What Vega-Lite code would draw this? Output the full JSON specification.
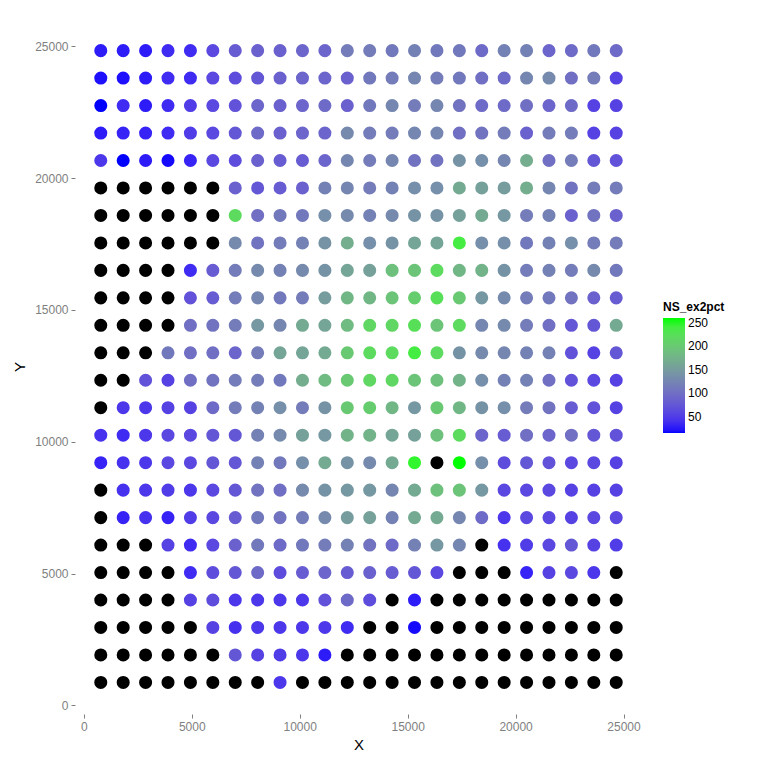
{
"$schema": "https://vega.github.io/schema/vega-lite/v6.json",
"width": 567, "height": 695,
"autosize": {"type": "none"},
"padding": {"left": 75, "top": 19, "right": 126, "bottom": 54},
"background": "white",
"config": {"view": {"stroke": null}, "font": "Liberation Sans"},
"data": {"values": [
{"x":787,"y":24838,"v":25},{"x":1825,"y":24838,"v":25},{"x":2863,"y":24838,"v":25},{"x":3901,"y":24838,"v":35},{"x":4939,"y":24838,"v":35},{"x":5977,"y":24838,"v":60},{"x":7015,"y":24838,"v":80},{"x":8053,"y":24838,"v":85},{"x":9091,"y":24838,"v":85},{"x":10129,"y":24838,"v":90},{"x":11167,"y":24838,"v":90},{"x":12205,"y":24838,"v":115},{"x":13243,"y":24838,"v":115},{"x":14281,"y":24838,"v":110},{"x":15319,"y":24838,"v":120},{"x":16357,"y":24838,"v":110},{"x":17395,"y":24838,"v":110},{"x":18433,"y":24838,"v":95},{"x":19471,"y":24838,"v":120},{"x":20509,"y":24838,"v":120},{"x":21547,"y":24838,"v":90},{"x":22585,"y":24838,"v":95},{"x":23623,"y":24838,"v":110},{"x":24661,"y":24838,"v":95},
{"x":787,"y":23796,"v":20},{"x":1825,"y":23796,"v":20},{"x":2863,"y":23796,"v":25},{"x":3901,"y":23796,"v":35},{"x":4939,"y":23796,"v":35},{"x":5977,"y":23796,"v":60},{"x":7015,"y":23796,"v":65},{"x":8053,"y":23796,"v":75},{"x":9091,"y":23796,"v":85},{"x":10129,"y":23796,"v":90},{"x":11167,"y":23796,"v":90},{"x":12205,"y":23796,"v":85},{"x":13243,"y":23796,"v":110},{"x":14281,"y":23796,"v":115},{"x":15319,"y":23796,"v":125},{"x":16357,"y":23796,"v":115},{"x":17395,"y":23796,"v":110},{"x":18433,"y":23796,"v":100},{"x":19471,"y":23796,"v":95},{"x":20509,"y":23796,"v":125},{"x":21547,"y":23796,"v":130},{"x":22585,"y":23796,"v":100},{"x":23623,"y":23796,"v":115},{"x":24661,"y":23796,"v":55},
{"x":787,"y":22754,"v":15},{"x":1825,"y":22754,"v":35},{"x":2863,"y":22754,"v":25},{"x":3901,"y":22754,"v":35},{"x":4939,"y":22754,"v":50},{"x":5977,"y":22754,"v":60},{"x":7015,"y":22754,"v":70},{"x":8053,"y":22754,"v":90},{"x":9091,"y":22754,"v":85},{"x":10129,"y":22754,"v":90},{"x":11167,"y":22754,"v":95},{"x":12205,"y":22754,"v":85},{"x":13243,"y":22754,"v":110},{"x":14281,"y":22754,"v":125},{"x":15319,"y":22754,"v":115},{"x":16357,"y":22754,"v":125},{"x":17395,"y":22754,"v":105},{"x":18433,"y":22754,"v":95},{"x":19471,"y":22754,"v":95},{"x":20509,"y":22754,"v":100},{"x":21547,"y":22754,"v":90},{"x":22585,"y":22754,"v":95},{"x":23623,"y":22754,"v":55},{"x":24661,"y":22754,"v":55},
{"x":787,"y":21712,"v":25},{"x":1825,"y":21712,"v":30},{"x":2863,"y":21712,"v":30},{"x":3901,"y":21712,"v":35},{"x":4939,"y":21712,"v":50},{"x":5977,"y":21712,"v":60},{"x":7015,"y":21712,"v":75},{"x":8053,"y":21712,"v":95},{"x":9091,"y":21712,"v":85},{"x":10129,"y":21712,"v":90},{"x":11167,"y":21712,"v":90},{"x":12205,"y":21712,"v":130},{"x":13243,"y":21712,"v":115},{"x":14281,"y":21712,"v":115},{"x":15319,"y":21712,"v":125},{"x":16357,"y":21712,"v":125},{"x":17395,"y":21712,"v":100},{"x":18433,"y":21712,"v":105},{"x":19471,"y":21712,"v":115},{"x":20509,"y":21712,"v":85},{"x":21547,"y":21712,"v":115},{"x":22585,"y":21712,"v":115},{"x":23623,"y":21712,"v":55},{"x":24661,"y":21712,"v":55},
{"x":787,"y":20670,"v":45},{"x":1825,"y":20670,"v":15},{"x":2863,"y":20670,"v":25},{"x":3901,"y":20670,"v":18},{"x":4939,"y":20670,"v":30},{"x":5977,"y":20670,"v":60},{"x":7015,"y":20670,"v":65},{"x":8053,"y":20670,"v":85},{"x":9091,"y":20670,"v":80},{"x":10129,"y":20670,"v":80},{"x":11167,"y":20670,"v":90},{"x":12205,"y":20670,"v":125},{"x":13243,"y":20670,"v":115},{"x":14281,"y":20670,"v":125},{"x":15319,"y":20670,"v":105},{"x":16357,"y":20670,"v":105},{"x":17395,"y":20670,"v":140},{"x":18433,"y":20670,"v":135},{"x":19471,"y":20670,"v":125},{"x":20509,"y":20670,"v":170},{"x":21547,"y":20670,"v":100},{"x":22585,"y":20670,"v":115},{"x":23623,"y":20670,"v":75},{"x":24661,"y":20670,"v":70},
{"x":787,"y":19628,"v":null},{"x":1825,"y":19628,"v":null},{"x":2863,"y":19628,"v":null},{"x":3901,"y":19628,"v":null},{"x":4939,"y":19628,"v":null},{"x":5977,"y":19628,"v":null},{"x":7015,"y":19628,"v":85},{"x":8053,"y":19628,"v":75},{"x":9091,"y":19628,"v":80},{"x":10129,"y":19628,"v":85},{"x":11167,"y":19628,"v":120},{"x":12205,"y":19628,"v":125},{"x":13243,"y":19628,"v":115},{"x":14281,"y":19628,"v":120},{"x":15319,"y":19628,"v":135},{"x":16357,"y":19628,"v":135},{"x":17395,"y":19628,"v":165},{"x":18433,"y":19628,"v":155},{"x":19471,"y":19628,"v":150},{"x":20509,"y":19628,"v":170},{"x":21547,"y":19628,"v":125},{"x":22585,"y":19628,"v":105},{"x":23623,"y":19628,"v":115},{"x":24661,"y":19628,"v":115},
{"x":787,"y":18586,"v":null},{"x":1825,"y":18586,"v":null},{"x":2863,"y":18586,"v":null},{"x":3901,"y":18586,"v":null},{"x":4939,"y":18586,"v":null},{"x":5977,"y":18586,"v":null},{"x":7015,"y":18586,"v":220},{"x":8053,"y":18586,"v":100},{"x":9091,"y":18586,"v":110},{"x":10129,"y":18586,"v":110},{"x":11167,"y":18586,"v":135},{"x":12205,"y":18586,"v":130},{"x":13243,"y":18586,"v":120},{"x":14281,"y":18586,"v":130},{"x":15319,"y":18586,"v":140},{"x":16357,"y":18586,"v":140},{"x":17395,"y":18586,"v":155},{"x":18433,"y":18586,"v":165},{"x":19471,"y":18586,"v":145},{"x":20509,"y":18586,"v":115},{"x":21547,"y":18586,"v":120},{"x":22585,"y":18586,"v":85},{"x":23623,"y":18586,"v":105},{"x":24661,"y":18586,"v":85},
{"x":787,"y":17544,"v":null},{"x":1825,"y":17544,"v":null},{"x":2863,"y":17544,"v":null},{"x":3901,"y":17544,"v":null},{"x":4939,"y":17544,"v":null},{"x":5977,"y":17544,"v":null},{"x":7015,"y":17544,"v":130},{"x":8053,"y":17544,"v":105},{"x":9091,"y":17544,"v":115},{"x":10129,"y":17544,"v":120},{"x":11167,"y":17544,"v":140},{"x":12205,"y":17544,"v":170},{"x":13243,"y":17544,"v":135},{"x":14281,"y":17544,"v":140},{"x":15319,"y":17544,"v":160},{"x":16357,"y":17544,"v":160},{"x":17395,"y":17544,"v":240},{"x":18433,"y":17544,"v":135},{"x":19471,"y":17544,"v":135},{"x":20509,"y":17544,"v":110},{"x":21547,"y":17544,"v":120},{"x":22585,"y":17544,"v":135},{"x":23623,"y":17544,"v":115},{"x":24661,"y":17544,"v":115},
{"x":787,"y":16502,"v":null},{"x":1825,"y":16502,"v":null},{"x":2863,"y":16502,"v":null},{"x":3901,"y":16502,"v":null},{"x":4939,"y":16502,"v":35},{"x":5977,"y":16502,"v":80},{"x":7015,"y":16502,"v":115},{"x":8053,"y":16502,"v":130},{"x":9091,"y":16502,"v":120},{"x":10129,"y":16502,"v":130},{"x":11167,"y":16502,"v":140},{"x":12205,"y":16502,"v":160},{"x":13243,"y":16502,"v":155},{"x":14281,"y":16502,"v":190},{"x":15319,"y":16502,"v":195},{"x":16357,"y":16502,"v":220},{"x":17395,"y":16502,"v":180},{"x":18433,"y":16502,"v":175},{"x":19471,"y":16502,"v":140},{"x":20509,"y":16502,"v":115},{"x":21547,"y":16502,"v":120},{"x":22585,"y":16502,"v":115},{"x":23623,"y":16502,"v":130},{"x":24661,"y":16502,"v":110},
{"x":787,"y":15460,"v":null},{"x":1825,"y":15460,"v":null},{"x":2863,"y":15460,"v":null},{"x":3901,"y":15460,"v":null},{"x":4939,"y":15460,"v":70},{"x":5977,"y":15460,"v":80},{"x":7015,"y":15460,"v":115},{"x":8053,"y":15460,"v":125},{"x":9091,"y":15460,"v":110},{"x":10129,"y":15460,"v":115},{"x":11167,"y":15460,"v":150},{"x":12205,"y":15460,"v":180},{"x":13243,"y":15460,"v":180},{"x":14281,"y":15460,"v":195},{"x":15319,"y":15460,"v":205},{"x":16357,"y":15460,"v":225},{"x":17395,"y":15460,"v":200},{"x":18433,"y":15460,"v":145},{"x":19471,"y":15460,"v":130},{"x":20509,"y":15460,"v":115},{"x":21547,"y":15460,"v":110},{"x":22585,"y":15460,"v":105},{"x":23623,"y":15460,"v":85},{"x":24661,"y":15460,"v":80},
{"x":787,"y":14418,"v":null},{"x":1825,"y":14418,"v":null},{"x":2863,"y":14418,"v":null},{"x":3901,"y":14418,"v":null},{"x":4939,"y":14418,"v":100},{"x":5977,"y":14418,"v":105},{"x":7015,"y":14418,"v":115},{"x":8053,"y":14418,"v":145},{"x":9091,"y":14418,"v":125},{"x":10129,"y":14418,"v":165},{"x":11167,"y":14418,"v":160},{"x":12205,"y":14418,"v":185},{"x":13243,"y":14418,"v":215},{"x":14281,"y":14418,"v":215},{"x":15319,"y":14418,"v":225},{"x":16357,"y":14418,"v":195},{"x":17395,"y":14418,"v":220},{"x":18433,"y":14418,"v":125},{"x":19471,"y":14418,"v":130},{"x":20509,"y":14418,"v":115},{"x":21547,"y":14418,"v":100},{"x":22585,"y":14418,"v":75},{"x":23623,"y":14418,"v":75},{"x":24661,"y":14418,"v":165},
{"x":787,"y":13376,"v":null},{"x":1825,"y":13376,"v":null},{"x":2863,"y":13376,"v":null},{"x":3901,"y":13376,"v":110},{"x":4939,"y":13376,"v":100},{"x":5977,"y":13376,"v":100},{"x":7015,"y":13376,"v":90},{"x":8053,"y":13376,"v":115},{"x":9091,"y":13376,"v":160},{"x":10129,"y":13376,"v":160},{"x":11167,"y":13376,"v":165},{"x":12205,"y":13376,"v":200},{"x":13243,"y":13376,"v":220},{"x":14281,"y":13376,"v":220},{"x":15319,"y":13376,"v":240},{"x":16357,"y":13376,"v":220},{"x":17395,"y":13376,"v":140},{"x":18433,"y":13376,"v":130},{"x":19471,"y":13376,"v":125},{"x":20509,"y":13376,"v":120},{"x":21547,"y":13376,"v":120},{"x":22585,"y":13376,"v":70},{"x":23623,"y":13376,"v":55},{"x":24661,"y":13376,"v":75},
{"x":787,"y":12334,"v":null},{"x":1825,"y":12334,"v":null},{"x":2863,"y":12334,"v":70},{"x":3901,"y":12334,"v":55},{"x":4939,"y":12334,"v":100},{"x":5977,"y":12334,"v":105},{"x":7015,"y":12334,"v":115},{"x":8053,"y":12334,"v":115},{"x":9091,"y":12334,"v":110},{"x":10129,"y":12334,"v":170},{"x":11167,"y":12334,"v":185},{"x":12205,"y":12334,"v":200},{"x":13243,"y":12334,"v":215},{"x":14281,"y":12334,"v":215},{"x":15319,"y":12334,"v":195},{"x":16357,"y":12334,"v":190},{"x":17395,"y":12334,"v":175},{"x":18433,"y":12334,"v":135},{"x":19471,"y":12334,"v":120},{"x":20509,"y":12334,"v":120},{"x":21547,"y":12334,"v":100},{"x":22585,"y":12334,"v":70},{"x":23623,"y":12334,"v":60},{"x":24661,"y":12334,"v":55},
{"x":787,"y":11292,"v":null},{"x":1825,"y":11292,"v":45},{"x":2863,"y":11292,"v":45},{"x":3901,"y":11292,"v":55},{"x":4939,"y":11292,"v":55},{"x":5977,"y":11292,"v":95},{"x":7015,"y":11292,"v":115},{"x":8053,"y":11292,"v":120},{"x":9091,"y":11292,"v":135},{"x":10129,"y":11292,"v":115},{"x":11167,"y":11292,"v":140},{"x":12205,"y":11292,"v":200},{"x":13243,"y":11292,"v":205},{"x":14281,"y":11292,"v":180},{"x":15319,"y":11292,"v":145},{"x":16357,"y":11292,"v":200},{"x":17395,"y":11292,"v":180},{"x":18433,"y":11292,"v":140},{"x":19471,"y":11292,"v":135},{"x":20509,"y":11292,"v":115},{"x":21547,"y":11292,"v":105},{"x":22585,"y":11292,"v":80},{"x":23623,"y":11292,"v":70},{"x":24661,"y":11292,"v":55},
{"x":787,"y":10250,"v":40},{"x":1825,"y":10250,"v":35},{"x":2863,"y":10250,"v":45},{"x":3901,"y":10250,"v":60},{"x":4939,"y":10250,"v":60},{"x":5977,"y":10250,"v":75},{"x":7015,"y":10250,"v":75},{"x":8053,"y":10250,"v":120},{"x":9091,"y":10250,"v":130},{"x":10129,"y":10250,"v":155},{"x":11167,"y":10250,"v":145},{"x":12205,"y":10250,"v":175},{"x":13243,"y":10250,"v":175},{"x":14281,"y":10250,"v":160},{"x":15319,"y":10250,"v":155},{"x":16357,"y":10250,"v":190},{"x":17395,"y":10250,"v":220},{"x":18433,"y":10250,"v":90},{"x":19471,"y":10250,"v":80},{"x":20509,"y":10250,"v":100},{"x":21547,"y":10250,"v":90},{"x":22585,"y":10250,"v":100},{"x":23623,"y":10250,"v":75},{"x":24661,"y":10250,"v":70},
{"x":787,"y":9208,"v":30},{"x":1825,"y":9208,"v":40},{"x":2863,"y":9208,"v":45},{"x":3901,"y":9208,"v":60},{"x":4939,"y":9208,"v":60},{"x":5977,"y":9208,"v":75},{"x":7015,"y":9208,"v":75},{"x":8053,"y":9208,"v":120},{"x":9091,"y":9208,"v":110},{"x":10129,"y":9208,"v":135},{"x":11167,"y":9208,"v":165},{"x":12205,"y":9208,"v":140},{"x":13243,"y":9208,"v":130},{"x":14281,"y":9208,"v":165},{"x":15319,"y":9208,"v":250},{"x":16357,"y":9208,"v":null},{"x":17395,"y":9208,"v":260},{"x":18433,"y":9208,"v":135},{"x":19471,"y":9208,"v":65},{"x":20509,"y":9208,"v":75},{"x":21547,"y":9208,"v":70},{"x":22585,"y":9208,"v":60},{"x":23623,"y":9208,"v":60},{"x":24661,"y":9208,"v":55},
{"x":787,"y":8166,"v":null},{"x":1825,"y":8166,"v":40},{"x":2863,"y":8166,"v":45},{"x":3901,"y":8166,"v":50},{"x":4939,"y":8166,"v":45},{"x":5977,"y":8166,"v":60},{"x":7015,"y":8166,"v":75},{"x":8053,"y":8166,"v":105},{"x":9091,"y":8166,"v":100},{"x":10129,"y":8166,"v":130},{"x":11167,"y":8166,"v":140},{"x":12205,"y":8166,"v":145},{"x":13243,"y":8166,"v":145},{"x":14281,"y":8166,"v":125},{"x":15319,"y":8166,"v":165},{"x":16357,"y":8166,"v":190},{"x":17395,"y":8166,"v":195},{"x":18433,"y":8166,"v":145},{"x":19471,"y":8166,"v":60},{"x":20509,"y":8166,"v":60},{"x":21547,"y":8166,"v":60},{"x":22585,"y":8166,"v":55},{"x":23623,"y":8166,"v":55},{"x":24661,"y":8166,"v":55},
{"x":787,"y":7124,"v":null},{"x":1825,"y":7124,"v":30},{"x":2863,"y":7124,"v":40},{"x":3901,"y":7124,"v":30},{"x":4939,"y":7124,"v":50},{"x":5977,"y":7124,"v":60},{"x":7015,"y":7124,"v":80},{"x":8053,"y":7124,"v":110},{"x":9091,"y":7124,"v":105},{"x":10129,"y":7124,"v":115},{"x":11167,"y":7124,"v":130},{"x":12205,"y":7124,"v":150},{"x":13243,"y":7124,"v":155},{"x":14281,"y":7124,"v":120},{"x":15319,"y":7124,"v":165},{"x":16357,"y":7124,"v":165},{"x":17395,"y":7124,"v":125},{"x":18433,"y":7124,"v":95},{"x":19471,"y":7124,"v":45},{"x":20509,"y":7124,"v":60},{"x":21547,"y":7124,"v":60},{"x":22585,"y":7124,"v":55},{"x":23623,"y":7124,"v":60},{"x":24661,"y":7124,"v":60},
{"x":787,"y":6082,"v":null},{"x":1825,"y":6082,"v":null},{"x":2863,"y":6082,"v":null},{"x":3901,"y":6082,"v":55},{"x":4939,"y":6082,"v":35},{"x":5977,"y":6082,"v":60},{"x":7015,"y":6082,"v":85},{"x":8053,"y":6082,"v":110},{"x":9091,"y":6082,"v":95},{"x":10129,"y":6082,"v":110},{"x":11167,"y":6082,"v":115},{"x":12205,"y":6082,"v":120},{"x":13243,"y":6082,"v":105},{"x":14281,"y":6082,"v":95},{"x":15319,"y":6082,"v":120},{"x":16357,"y":6082,"v":145},{"x":17395,"y":6082,"v":125},{"x":18433,"y":6082,"v":null},{"x":19471,"y":6082,"v":40},{"x":20509,"y":6082,"v":50},{"x":21547,"y":6082,"v":60},{"x":22585,"y":6082,"v":75},{"x":23623,"y":6082,"v":55},{"x":24661,"y":6082,"v":50},
{"x":787,"y":5040,"v":null},{"x":1825,"y":5040,"v":null},{"x":2863,"y":5040,"v":null},{"x":3901,"y":5040,"v":null},{"x":4939,"y":5040,"v":35},{"x":5977,"y":5040,"v":65},{"x":7015,"y":5040,"v":75},{"x":8053,"y":5040,"v":95},{"x":9091,"y":5040,"v":65},{"x":10129,"y":5040,"v":80},{"x":11167,"y":5040,"v":90},{"x":12205,"y":5040,"v":80},{"x":13243,"y":5040,"v":85},{"x":14281,"y":5040,"v":80},{"x":15319,"y":5040,"v":75},{"x":16357,"y":5040,"v":60},{"x":17395,"y":5040,"v":null},{"x":18433,"y":5040,"v":null},{"x":19471,"y":5040,"v":null},{"x":20509,"y":5040,"v":30},{"x":21547,"y":5040,"v":55},{"x":22585,"y":5040,"v":60},{"x":23623,"y":5040,"v":45},{"x":24661,"y":5040,"v":null},
{"x":787,"y":3998,"v":null},{"x":1825,"y":3998,"v":null},{"x":2863,"y":3998,"v":null},{"x":3901,"y":3998,"v":null},{"x":4939,"y":3998,"v":55},{"x":5977,"y":3998,"v":65},{"x":7015,"y":3998,"v":45},{"x":8053,"y":3998,"v":45},{"x":9091,"y":3998,"v":45},{"x":10129,"y":3998,"v":45},{"x":11167,"y":3998,"v":70},{"x":12205,"y":3998,"v":95},{"x":13243,"y":3998,"v":65},{"x":14281,"y":3998,"v":null},{"x":15319,"y":3998,"v":25},{"x":16357,"y":3998,"v":null},{"x":17395,"y":3998,"v":null},{"x":18433,"y":3998,"v":null},{"x":19471,"y":3998,"v":null},{"x":20509,"y":3998,"v":null},{"x":21547,"y":3998,"v":null},{"x":22585,"y":3998,"v":null},{"x":23623,"y":3998,"v":null},{"x":24661,"y":3998,"v":null},
{"x":787,"y":2956,"v":null},{"x":1825,"y":2956,"v":null},{"x":2863,"y":2956,"v":null},{"x":3901,"y":2956,"v":null},{"x":4939,"y":2956,"v":null},{"x":5977,"y":2956,"v":55},{"x":7015,"y":2956,"v":40},{"x":8053,"y":2956,"v":45},{"x":9091,"y":2956,"v":45},{"x":10129,"y":2956,"v":45},{"x":11167,"y":2956,"v":45},{"x":12205,"y":2956,"v":35},{"x":13243,"y":2956,"v":null},{"x":14281,"y":2956,"v":null},{"x":15319,"y":2956,"v":18},{"x":16357,"y":2956,"v":null},{"x":17395,"y":2956,"v":null},{"x":18433,"y":2956,"v":null},{"x":19471,"y":2956,"v":null},{"x":20509,"y":2956,"v":null},{"x":21547,"y":2956,"v":null},{"x":22585,"y":2956,"v":null},{"x":23623,"y":2956,"v":null},{"x":24661,"y":2956,"v":null},
{"x":787,"y":1914,"v":null},{"x":1825,"y":1914,"v":null},{"x":2863,"y":1914,"v":null},{"x":3901,"y":1914,"v":null},{"x":4939,"y":1914,"v":null},{"x":5977,"y":1914,"v":null},{"x":7015,"y":1914,"v":75},{"x":8053,"y":1914,"v":55},{"x":9091,"y":1914,"v":50},{"x":10129,"y":1914,"v":45},{"x":11167,"y":1914,"v":25},{"x":12205,"y":1914,"v":null},{"x":13243,"y":1914,"v":null},{"x":14281,"y":1914,"v":null},{"x":15319,"y":1914,"v":null},{"x":16357,"y":1914,"v":null},{"x":17395,"y":1914,"v":null},{"x":18433,"y":1914,"v":null},{"x":19471,"y":1914,"v":null},{"x":20509,"y":1914,"v":null},{"x":21547,"y":1914,"v":null},{"x":22585,"y":1914,"v":null},{"x":23623,"y":1914,"v":null},{"x":24661,"y":1914,"v":null},
{"x":787,"y":872,"v":null},{"x":1825,"y":872,"v":null},{"x":2863,"y":872,"v":null},{"x":3901,"y":872,"v":null},{"x":4939,"y":872,"v":null},{"x":5977,"y":872,"v":null},{"x":7015,"y":872,"v":null},{"x":8053,"y":872,"v":null},{"x":9091,"y":872,"v":45},{"x":10129,"y":872,"v":null},{"x":11167,"y":872,"v":null},{"x":12205,"y":872,"v":null},{"x":13243,"y":872,"v":null},{"x":14281,"y":872,"v":null},{"x":15319,"y":872,"v":null},{"x":16357,"y":872,"v":null},{"x":17395,"y":872,"v":null},{"x":18433,"y":872,"v":null},{"x":19471,"y":872,"v":null},{"x":20509,"y":872,"v":null},{"x":21547,"y":872,"v":null},{"x":22585,"y":872,"v":null},{"x":23623,"y":872,"v":null},{"x":24661,"y":872,"v":null}
]},
"encoding": {
  "x": {"field": "x", "type": "quantitative", "scale": {"domain": [-407, 25855], "nice": false, "zero": false},
        "axis": {"values": [0, 5000, 10000, 15000, 20000, 25000], "format": "d", "domain": false, "grid": false, "tickColor": "#7f7f7f", "tickSize": 4, "labelColor": "#7f7f7f", "labelFontSize": 12, "labelPadding": 3, "title": "X", "titleFontSize": 15, "titleFontWeight": "normal", "titleColor": "black", "titlePadding": 5}},
  "y": {"field": "y", "type": "quantitative", "scale": {"domain": [-326, 26038], "nice": false, "zero": false},
        "axis": {"values": [0, 5000, 10000, 15000, 20000, 25000], "format": "d", "domain": false, "grid": false, "tickColor": "#7f7f7f", "tickSize": 4, "labelColor": "#7f7f7f", "labelFontSize": 12, "labelPadding": 3, "title": "Y", "titleFontSize": 15, "titleFontWeight": "normal", "titleColor": "black", "titlePadding": 7}}
},
"layer": [
  {"transform": [{"filter": "datum.v === null"}],
   "mark": {"type": "circle", "size": 170, "opacity": 1, "color": "black"}},
  {"transform": [{"filter": "datum.v !== null"}],
   "mark": {"type": "circle", "size": 170, "opacity": 1},
   "encoding": {"color": {"field": "v", "type": "quantitative",
      "scale": {"domain": [15, 260], "range": ["#0000ff", "#00ff00"], "interpolate": "lab"},
      "legend": {"title": "NS_ex2pct", "orient": "none", "legendX": 588, "legendY": 283, "direction": "vertical", "values": [50, 100, 150, 200, 250], "gradientLength": 115, "gradientThickness": 22, "gradientStrokeWidth": 0, "titleFontSize": 12, "titleFontWeight": "bold", "titleColor": "black", "titlePadding": 4, "labelFontSize": 12, "labelColor": "black", "labelOffset": 3}}}}
]
}
